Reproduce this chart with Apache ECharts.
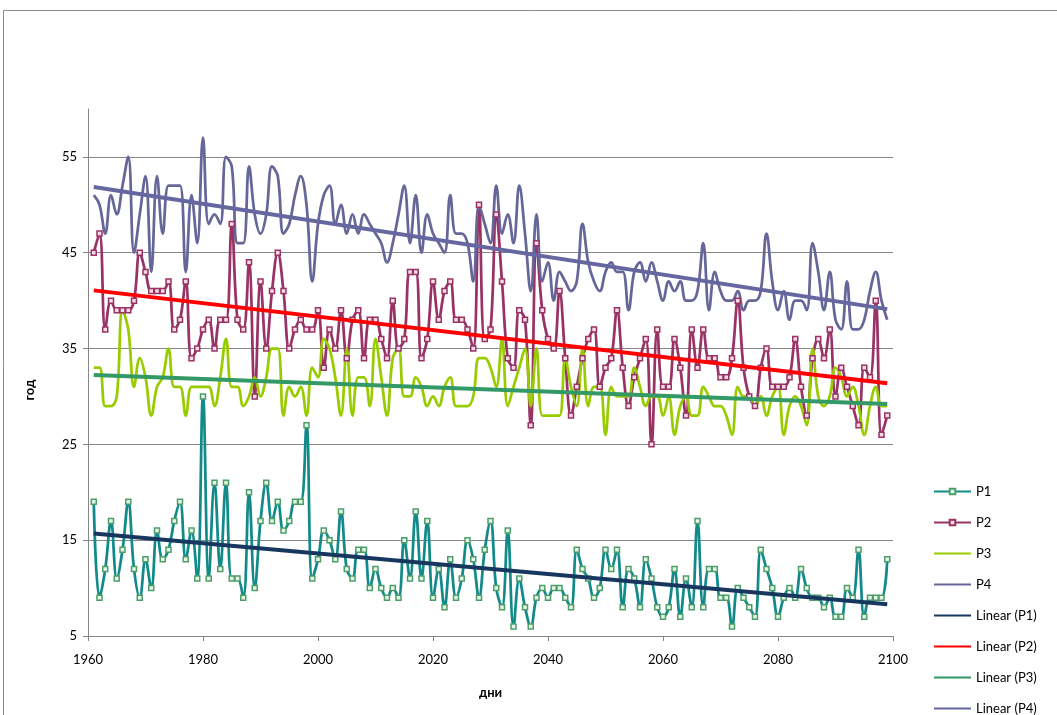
<!DOCTYPE html>
<html>
<head>
<meta charset="utf-8">
<script src="https://cdn.jsdelivr.net/npm/echarts@6/dist/echarts.min.js"></script>
<style>
html, body { margin: 0; padding: 0; background: #fff; }
#chart { width: 1057px; height: 715px; }
</style>
</head>
<body>
<div id="chart"></div>
<script>
// годы: по одному значению на год, начиная с 1961
var firstYear = 1961;

var p1 = [19,9,12,17,11,14,19,12,9,13,10,16,13,14,17,19,13,16,11,30,11,21,12,21,11,11,9,20,10,17,21,17,19,16,17,
	19,19,27,11,13,16,15,13,18,12,11,14,14,10,12,10,9,10,9,15,11,18,11,17,9,12,8,13,9,11,15,13,9,14,17,
	10,8,16,6,11,8,6,9,10,9,10,10,9,8,14,12,11,9,10,14,12,14,8,12,11,8,13,11,8,7,8,12,7,11,
	8,17,8,12,12,9,9,6,10,9,8,7,14,12,10,7,9,10,9,12,10,9,9,8,9,7,7,10,9,14,7,9,9,9,13];

var p2 = [45,47,37,40,39,39,39,40,45,43,41,41,41,42,37,38,42,34,35,37,38,35,38,38,48,38,37,44,30,42,35,41,45,41,35,
	37,38,37,37,39,33,37,35,39,34,38,39,34,38,38,36,34,40,35,36,43,43,34,36,42,38,41,42,38,38,37,35,50,36,37,
	49,42,34,33,39,38,27,46,39,36,35,41,34,28,31,34,36,37,31,33,34,39,33,29,32,34,36,25,37,31,31,36,33,28,
	37,33,37,34,34,32,32,34,40,33,30,29,33,35,31,31,31,32,36,31,28,34,36,34,37,30,33,31,29,27,33,32,40,26,28];

var p3 = [33,33,29,29,30,39,37,31,34,32,28,31,32,35,31,31,28,31,31,31,31,29,32,36,31,31,29,30,32,30,32,35,35,28,31,
	30,31,28,33,32,36,35,32,28,35,28,32,32,29,36,32,28,34,35,30,30,32,31,29,30,29,31,32,29,29,29,30,34,
	34,33,31,36,29,31,33,35,29,35,28,28,28,28,34,31,29,35,29,31,31,26,31,30,30,30,33,31,29,30,30,28,30,26,29,30,
	28,28,31,30,29,29,28,26,31,30,30,29,30,28,30,31,26,29,30,29,27,35,30,29,30,33,32,30,31,29,26,29,31,29,29];

var p4 = [51,50,47,51,49,52,55,45,49,53,43,53,47,52,52,52,43,51,46,57,48,49,48,55,54,46,46,54,49,47,49,54,53,47,48,
	51,53,50,42,48,51,52,48,50,47,49,47,49,48,47,46,44,46,49,52,46,51,45,49,47,46,45,51,47,47,46,42,50,48,46,
	52,47,49,46,52,47,41,49,42,44,40,43,42,41,42,48,44,42,41,43,44,43,43,39,43,44,42,44,42,40,42,41,42,40,
	40,41,46,39,43,41,40,40,41,39,40,40,41,47,42,39,41,38,40,40,39,46,43,39,43,38,37,42,37,37,38,41,43,40,38];

var xTicks = [1960, 2100, 20];
var yTicks = [5, 60, 10];

var years = [];
for (var i = 0; i < p1.length; i++) {
	years.push(firstYear + i);
}

function toPoints(vals) {
	return vals.map(function (v, i) { return [years[i], v]; });
}

// линейный тренд (МНК), как в Excel
function trend(vals) {
	var n = vals.length, sx = 0, sy = 0, sxx = 0, sxy = 0;
	for (var i = 0; i < n; i++) {
		sx += years[i]; sy += vals[i];
		sxx += years[i] * years[i]; sxy += years[i] * vals[i];
	}
	var b = (n * sxy - sx * sy) / (n * sxx - sx * sx);
	var a = (sy - b * sx) / n;
	return [[years[0], a + b * years[0]], [years[n - 1], a + b * years[n - 1]]];
}

var font = 'Lato, "Open Sans", sans-serif';

function dataLine(name, vals, color, marker) {
	var s = {
		name: name,
		type: 'line',
		data: toPoints(vals),
		smooth: 0.4,
		lineStyle: { color: color, width: 2.75 },
		itemStyle: { color: color },
		z: 2
	};
	if (marker) {
		s.symbol = 'rect';
		s.symbolSize = 5;
		s.itemStyle = { color: marker[0], borderColor: marker[1], borderWidth: 1.5 };
	} else {
		s.symbol = 'none';
	}
	return s;
}

function trendLine(name, vals, color) {
	return {
		name: name,
		type: 'line',
		data: trend(vals),
		symbol: 'none',
		lineStyle: { color: color, width: 4 },
		itemStyle: { color: color },
		z: 3
	};
}

// в легенде у линий без маркеров прячем кружок
var noMark = { opacity: 0 };

var chart = echarts.init(document.getElementById('chart'));
chart.setOption({
	animation: false,
	backgroundColor: '#fff',
	textStyle: { fontFamily: font },
	grid: { left: 88, right: 164, top: 109, bottom: 79 },
	graphic: [
		{ type: 'rect', shape: { x: 3.5, y: 10.5, width: 1100, height: 800 },
			style: { fill: 'none', stroke: '#8c8c8c', lineWidth: 1 }, silent: true },
		{ type: 'text', x: 30, y: 390, rotation: Math.PI / 2,
			style: { text: 'год', font: 'bold 13px ' + font, fill: '#000', textAlign: 'center', textVerticalAlign: 'middle' } }
	],
	legend: {
		orient: 'vertical',
		left: 928,
		top: 480,
		height: 300,
		itemWidth: 37,
		itemHeight: 7,
		itemGap: 18,
		textStyle: { fontSize: 13, color: '#000', fontFamily: font },
		data: [
			{ name: 'P1' },
			{ name: 'P2' },
			{ name: 'P3', itemStyle: noMark },
			{ name: 'P4', itemStyle: noMark },
			{ name: 'Linear (P1)', itemStyle: noMark },
			{ name: 'Linear (P2)', itemStyle: noMark },
			{ name: 'Linear (P3)', itemStyle: noMark },
			{ name: 'Linear (P4)', itemStyle: noMark }
		]
	},
	xAxis: {
		type: 'value',
		min: xTicks[0], max: xTicks[1], interval: xTicks[2],
		name: 'дни',
		nameLocation: 'middle',
		nameGap: 50,
		nameTextStyle: { fontWeight: 'bold', fontSize: 13, color: '#000' },
		axisLine: { lineStyle: { color: '#868686' } },
		axisTick: { show: true, length: 5, lineStyle: { color: '#868686' } },
		axisLabel: { fontSize: 13, color: '#000', margin: 17, formatter: function (v) { return String(v); } },
		splitLine: { show: false }
	},
	yAxis: {
		type: 'value',
		min: yTicks[0], max: yTicks[1], interval: yTicks[2],
		axisLine: { show: true, lineStyle: { color: '#868686' } },
		axisTick: { show: true, length: 5, lineStyle: { color: '#868686' } },
		axisLabel: { fontSize: 13, color: '#000', margin: 11, showMaxLabel: false },
		splitLine: { show: true, showMinLine: false, showMaxLine: false, lineStyle: { color: '#868686' } }
	},
	series: [
		dataLine('P1', p1, '#138a8a', ['#e6f4ea', '#4e9e6a']),
		dataLine('P2', p2, '#993366', ['#f3dbe6', '#993366']),
		dataLine('P3', p3, '#99cc00'),
		dataLine('P4', p4, '#666699'),
		trendLine('Linear (P1)', p1, '#17375e'),
		trendLine('Linear (P2)', p2, '#ff0000'),
		trendLine('Linear (P3)', p3, '#339966'),
		trendLine('Linear (P4)', p4, '#6666a0')
	]
});
</script>
</body>
</html>
